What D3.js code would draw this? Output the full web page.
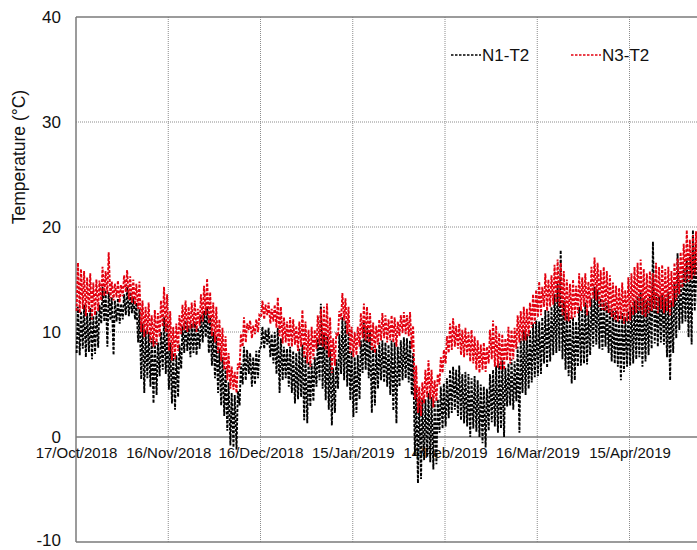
<!DOCTYPE html>
<html>
<head>
<meta charset="utf-8">
<script src="https://cdn.jsdelivr.net/npm/d3@7"></script>
<style>
  html, body { margin: 0; padding: 0; background: #fff; }
  svg { display: block; font-family: "Liberation Sans", Arial, sans-serif; }
</style>
</head>
<body>
<svg id="chart" width="697" height="550"></svg>
<script>
// First day of the record; each series holds one daily max and one daily min
const startDate = "2018-10-17";

// N1-T2 daily maxima / minima (°C)
const n1Max = [
  12.4,12.0,12.6,11.8,12.3,11.5,12.0,12.6,14.3,14.0,
  13.8,13.3,13.0,13.2,12.7,13.6,14.3,13.8,13.3,12.8,
  12.2,10.8,10.2,10.0,9.4,9.2,9.0,10.0,11.4,10.8,
  9.0,8.0,7.8,8.8,10.6,11.1,10.6,10.8,11.0,10.4,
  11.6,12.0,12.4,11.4,10.0,9.6,8.4,7.6,6.6,5.2,
  4.2,4.0,4.4,7.0,8.6,8.3,8.0,7.6,8.2,8.4,
  10.5,10.2,10.4,9.8,10.0,10.4,9.4,8.6,8.4,8.6,
  8.2,8.0,8.4,8.8,7.8,7.2,7.0,7.6,9.4,12.7,
  9.9,9.6,8.4,6.6,7.4,9.8,11.4,11.1,10.0,8.2,
  7.6,7.8,9.2,10.9,10.6,10.0,8.6,8.4,9.0,9.2,
  9.0,8.8,9.2,9.0,8.6,9.2,9.5,9.4,9.2,8.0,
  4.8,3.8,3.6,3.6,4.2,3.8,3.4,3.6,4.8,5.1,
  5.6,6.4,6.7,6.4,6.8,6.0,6.2,6.0,5.6,5.8,
  5.4,5.0,4.8,4.6,6.0,6.4,6.8,7.0,7.3,6.6,
  7.0,7.4,7.2,8.6,9.4,10.2,9.8,10.2,10.8,11.1,
  11.0,11.4,12.1,12.0,12.4,13.6,14.6,17.8,13.0,11.8,
  11.4,11.4,11.0,12.4,12.2,12.8,12.0,13.2,14.3,14.0,
  13.2,13.0,12.8,12.2,12.0,12.1,11.6,11.8,11.4,12.0,
  12.4,13.0,13.4,13.8,13.2,13.0,13.4,18.6,13.8,13.4,
  13.6,13.2,13.8,13.0,14.6,17.5,15.0,16.0,17.0,17.4,
  19.7,18.4,18.8,19.0
];
const n1Min = [
  8.0,7.8,8.4,7.6,8.1,7.4,7.9,8.5,10.8,11.0,
  8.6,11.1,7.8,11.0,10.8,11.2,11.6,11.5,11.8,11.2,
  9.0,5.5,4.2,5.6,4.8,3.2,4.0,5.8,6.4,6.0,
  4.5,3.2,2.6,3.8,6.5,8.0,8.2,7.6,8.0,7.8,
  8.4,9.0,9.5,8.0,6.8,5.6,4.2,3.0,2.0,0.6,
  -0.8,-1.0,-1.2,3.0,5.0,5.4,6.0,4.8,5.0,5.6,
  8.6,8.4,8.8,7.6,7.0,6.0,4.2,5.4,5.6,4.8,
  4.2,3.2,3.6,3.8,1.6,1.3,2.9,3.4,4.8,5.4,
  4.6,3.5,2.6,1.1,2.3,4.6,6.0,5.4,4.8,3.5,
  1.9,2.3,3.6,6.1,6.4,5.6,2.3,3.0,4.6,5.4,
  5.2,4.8,4.0,2.5,1.3,4.8,5.4,5.6,5.2,4.0,
  -1.8,-4.4,-4.0,-2.2,-1.9,-2.4,-3.1,-2.6,0.4,0.8,
  1.0,1.8,2.3,2.6,2.0,1.6,1.3,1.0,0.0,0.8,
  0.5,0.0,-0.6,-1.0,0.6,1.4,1.0,0.4,0.8,0.0,
  2.9,3.0,2.6,3.4,0.4,4.2,4.0,4.6,5.2,5.7,
  5.8,6.0,7.0,6.6,7.2,7.8,8.0,8.2,7.4,6.4,
  5.8,5.1,5.4,6.7,6.8,7.0,6.9,7.8,8.6,8.8,
  8.4,8.3,8.6,8.0,7.2,7.0,6.7,5.4,6.2,6.7,
  6.8,7.0,7.4,7.6,6.7,7.2,7.8,8.4,8.9,8.6,
  9.0,8.8,7.6,5.4,8.0,9.4,10.2,10.8,11.0,9.5,
  8.8,12.0,12.7,13.0
];

// N3-T2 daily maxima / minima (°C)
const n3Max = [
  16.6,16.0,15.8,15.2,15.6,14.7,15.0,14.9,16.2,15.8,
  17.6,14.8,14.6,14.9,14.5,15.4,15.9,15.3,15.0,14.6,
  14.8,13.0,12.4,12.8,11.6,12.1,11.8,13.0,14.3,13.6,
  12.0,10.5,10.8,11.6,12.6,13.0,12.4,12.8,13.0,12.2,
  13.6,14.4,15.1,13.8,12.8,12.4,11.2,10.4,9.6,8.0,
  6.7,6.2,7.0,9.8,11.4,10.8,11.1,10.6,11.2,11.6,
  13.0,12.6,12.8,12.2,12.6,13.3,12.4,11.4,11.0,11.4,
  11.2,10.6,11.0,12.1,11.0,10.2,10.5,10.2,11.6,12.2,
  12.4,12.7,11.4,9.4,9.8,12.0,13.7,13.2,12.4,10.5,
  10.0,10.5,11.8,12.7,12.4,11.8,10.9,10.6,11.2,11.8,
  11.6,11.2,11.6,11.4,11.0,11.6,11.9,11.6,11.9,10.6,
  6.8,4.8,5.2,6.4,7.3,6.4,5.4,6.0,7.6,8.3,
  9.6,10.8,11.3,10.6,10.8,10.2,10.4,10.0,10.2,9.6,
  9.2,8.8,9.0,8.6,10.2,11.1,10.6,9.9,9.8,9.4,
  10.5,10.2,10.4,11.6,12.0,12.4,12.2,12.8,13.6,14.0,
  14.8,14.3,15.6,15.0,15.4,16.4,16.9,16.6,15.8,15.0,
  14.6,15.0,14.4,15.6,15.2,15.6,14.8,16.2,17.1,16.6,
  15.9,16.2,15.8,15.4,14.7,14.4,14.2,14.7,14.0,15.2,
  15.6,16.2,16.6,16.9,16.0,15.6,15.8,15.6,16.6,16.2,
  16.4,16.0,16.2,15.8,16.6,17.0,17.6,18.4,19.7,18.8,
  19.2,19.6,19.0,19.4
];
const n3Min = [
  12.0,11.8,12.2,11.5,11.9,11.2,11.6,12.0,13.0,13.4,
  13.6,13.2,13.0,13.3,12.8,13.4,13.8,13.1,12.8,12.6,
  12.2,10.0,9.5,9.8,9.0,8.6,8.8,9.5,10.5,10.0,
  8.2,7.3,7.4,8.2,9.8,10.2,10.0,10.3,10.4,10.0,
  10.6,11.0,11.6,10.8,9.6,9.0,8.0,7.2,6.4,5.4,
  4.6,4.5,4.2,6.6,8.6,9.0,10.2,9.4,9.8,10.0,
  11.4,11.2,11.6,10.8,11.0,10.4,9.6,8.9,9.0,8.6,
  8.6,8.8,8.2,8.6,7.6,7.0,6.7,7.4,8.4,8.8,
  8.6,8.3,7.6,6.1,6.8,9.6,11.2,11.1,9.8,8.0,
  7.6,7.8,8.6,9.4,9.2,9.0,8.2,8.0,8.8,9.2,
  9.4,9.0,9.2,9.0,8.6,9.6,9.9,9.8,9.6,8.4,
  3.6,2.3,2.0,3.2,3.8,3.6,2.8,3.4,5.0,6.1,
  7.0,8.0,8.3,8.6,8.4,7.8,7.6,7.8,7.2,7.0,
  6.4,6.1,6.4,6.2,7.0,7.4,6.7,6.6,6.4,6.4,
  7.3,7.0,7.4,8.4,9.0,9.2,9.2,9.6,10.4,10.8,
  11.4,11.6,12.4,12.0,12.4,12.6,12.8,12.4,11.6,11.1,
  11.0,11.2,11.4,11.8,12.0,12.4,11.6,12.4,13.2,13.0,
  12.4,12.1,12.0,11.8,11.4,11.1,11.0,11.2,10.8,11.0,
  11.1,11.6,11.8,12.0,11.6,11.4,11.8,12.0,12.2,11.8,
  12.2,11.8,12.0,11.6,12.4,13.0,13.6,14.2,14.7,14.8,
  15.0,15.4,15.2,15.6
];

const yTicks = [-10, 0, 10, 20, 30, 40];
const dateTickLabels = ["17/Oct/2018", "16/Nov/2018", "16/Dec/2018", "15/Jan/2019",
                        "14/Feb/2019", "16/Mar/2019", "15/Apr/2019"];
const seriesNames = ["N1-T2", "N3-T2"];
const seriesColors = ["#000000", "#e3000f"];

const svg = d3.select("#chart");
const plotLeft = 76, plotTop = 17, plotBottom = 542;
const dayPx = 3.075;            // horizontal span of one day
const axisDays = 240;

const parseTick = d3.utcParse("%d/%b/%Y");
const t0 = d3.utcParse("%Y-%m-%d")(startDate);
const x = d3.scaleUtc()
  .domain([t0, d3.utcDay.offset(t0, axisDays)])
  .range([plotLeft, plotLeft + axisDays * dayPx]);
const y = d3.scaleLinear().domain([-10, 40]).range([plotBottom, plotTop]);
const plotRight = x.range()[1];

const gridColor = "#8c8c8c";

// vertical gridlines every 30 days, continuing past the labelled dates
const tickDates = dateTickLabels.map(parseTick);
const gridDates = d3.utcDay.range(t0, x.domain()[1], 1).filter((d, i) => i > 0 && i % 30 === 0);

const grid = svg.append("g");
grid.selectAll("line.h").data(yTicks.filter(v => v > 0 && v < 40)).join("line")
  .attr("x1", plotLeft).attr("x2", plotRight)
  .attr("y1", d => y(d)).attr("y2", d => y(d))
  .attr("stroke", gridColor).attr("stroke-width", 1).attr("stroke-dasharray", "1,1");
grid.selectAll("line.v").data(gridDates).join("line")
  .attr("x1", d => x(d)).attr("x2", d => x(d))
  .attr("y1", plotTop).attr("y2", plotBottom)
  .attr("stroke", gridColor).attr("stroke-width", 1).attr("stroke-dasharray", "1,1");

// frame and zero line
const frame = svg.append("g").attr("stroke", "#7a7a7a").attr("stroke-width", 1.5);
frame.append("line").attr("x1", plotLeft).attr("x2", plotLeft).attr("y1", plotTop).attr("y2", plotBottom);
frame.append("line").attr("x1", plotLeft).attr("x2", plotRight).attr("y1", plotTop).attr("y2", plotTop);
frame.append("line").attr("x1", plotLeft).attr("x2", plotRight).attr("y1", plotBottom).attr("y2", plotBottom);
frame.append("line").attr("x1", plotLeft).attr("x2", plotRight).attr("y1", y(0)).attr("y2", y(0));

// y axis labels
const yAxis = d3.axisLeft(y).tickValues(yTicks).tickSize(0).tickPadding(15).tickFormat(d => String(d));
const yg = svg.append("g").attr("transform", `translate(${plotLeft},0)`).call(yAxis);
yg.select(".domain").remove();
yg.selectAll("text").attr("font-size", 17).attr("fill", "#111")
  .attr("font-family", "Liberation Sans, Arial, sans-serif");
yg.selectAll("g.tick").filter(d => d === -10).select("text").attr("dy", "0.2em");

// date labels sit along the zero line
const xAxis = d3.axisBottom(x).tickValues(tickDates).tickSize(0).tickPadding(10)
  .tickFormat((d, i) => dateTickLabels[i]);
const xg = svg.append("g").attr("transform", `translate(0,${y(0)})`).call(xAxis);
xg.select(".domain").remove();
xg.selectAll("text").attr("font-size", 15).attr("fill", "#111")
  .attr("font-family", "Liberation Sans, Arial, sans-serif");

svg.append("text")
  .attr("transform", "translate(25,157) rotate(-90)")
  .attr("text-anchor", "middle")
  .attr("font-size", 17.5).attr("fill", "#111")
  .text("Temperature (°C)");

// each day contributes its minimum (early morning) and maximum (afternoon)
function dailyPoints(maxArr, minArr) {
  const pts = [];
  maxArr.forEach((mx, i) => {
    const day = d3.utcDay.offset(t0, i);
    pts.push({ t: d3.utcHour.offset(day, 5), v: minArr[i] });
    pts.push({ t: d3.utcHour.offset(day, 15), v: mx });
  });
  return pts;
}

const line = d3.line().x(d => x(d.t)).y(d => y(d.v));
const series = [dailyPoints(n1Max, n1Min), dailyPoints(n3Max, n3Min)];

svg.append("g").selectAll("path").data(series).join("path")
  .attr("d", line)
  .attr("fill", "none")
  .attr("stroke", (d, i) => seriesColors[i])
  .attr("stroke-width", 1.9)
  .attr("stroke-dasharray", "3,1.5");

// legend
const legendX = [451, 571];
const lg = svg.append("g");
seriesNames.forEach((name, i) => {
  lg.append("line")
    .attr("x1", legendX[i]).attr("x2", legendX[i] + 30)
    .attr("y1", 55).attr("y2", 55)
    .attr("stroke", seriesColors[i]).attr("stroke-width", 1.3)
    .attr("stroke-dasharray", "2.5,1.5");
  lg.append("text")
    .attr("x", legendX[i] + 31).attr("y", 61)
    .attr("font-size", 17).attr("fill", "#111")
    .text(name);
});
</script>
</body>
</html>
